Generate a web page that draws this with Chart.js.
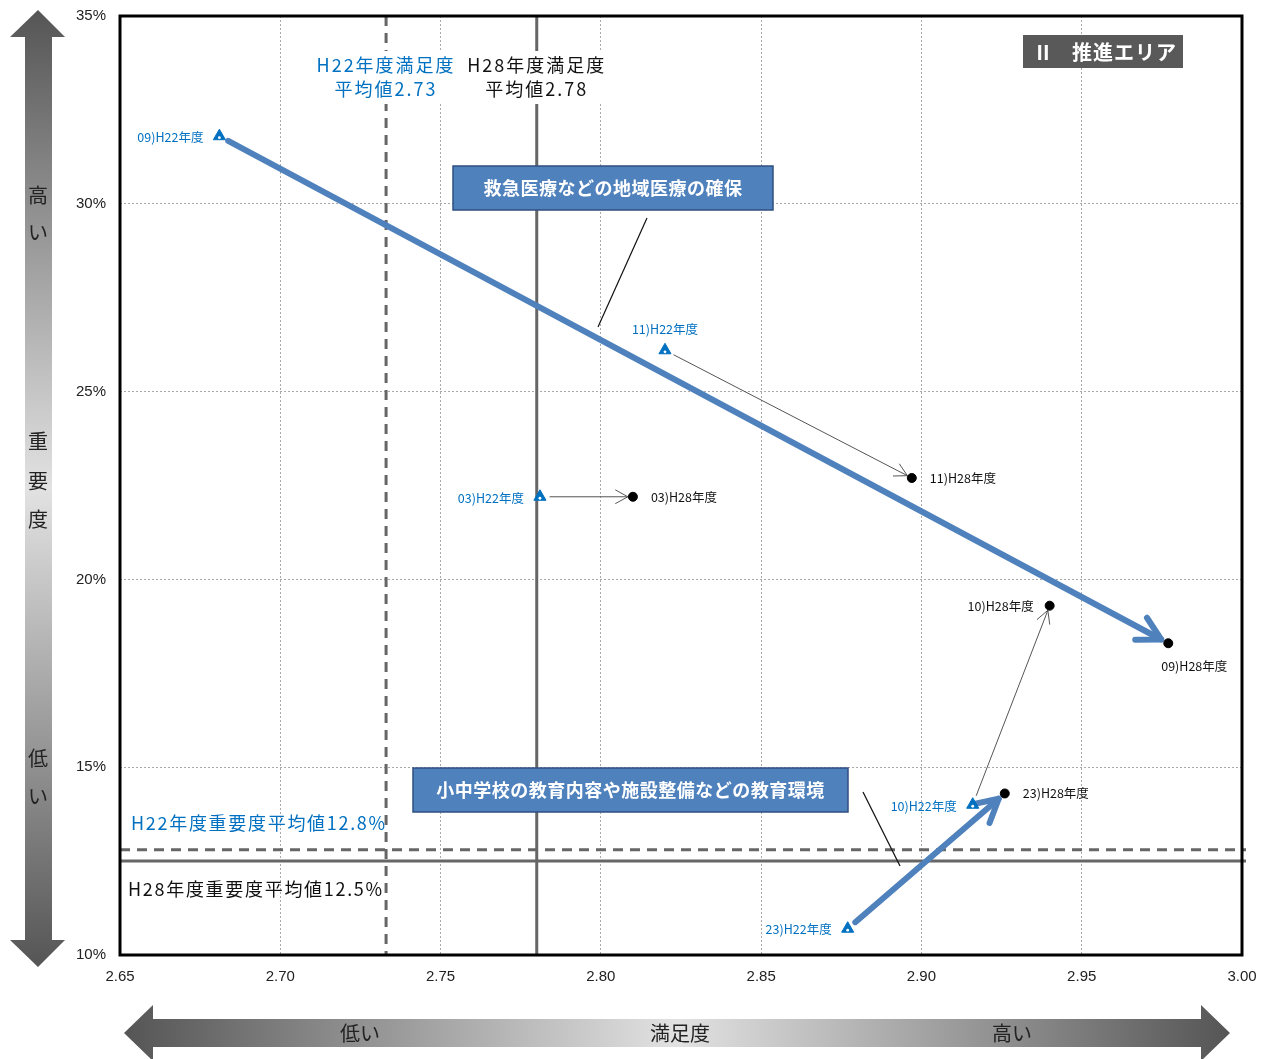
<!DOCTYPE html>
<html>
<head>
<meta charset="utf-8">
<script src="https://cdn.jsdelivr.net/npm/chart.js@4/dist/chart.umd.min.js"></script>
<style>
  html, body { margin: 0; padding: 0; background: #fff; overflow: hidden; }
  #wrap { width: 1266px; height: 1059px; position: relative; }
</style>
</head>
<body>
<div id="wrap"><canvas id="c" width="1266" height="1059"></canvas></div>
<script>
// Items and their satisfaction (x) / importance % (y) for the two survey years
const itemCodes = ['09', '11', '03', '10', '23'];
const satisfactionH22 = [2.681, 2.820, 2.781, 2.916, 2.877];
const importanceH22   = [31.8, 26.1, 22.2, 14.0, 10.7];
const satisfactionH28 = [2.977, 2.897, 2.810, 2.940, 2.926];
const importanceH28   = [18.3, 22.7, 22.2, 19.3, 14.3];

// Averages
const avgSatisfactionH22 = 2.733;
const avgSatisfactionH28 = 2.78;
const avgImportanceH22 = 12.8;
const avgImportanceH28 = 12.5;

// Axis ticks
const xTickValues = [2.65, 2.70, 2.75, 2.80, 2.85, 2.90, 2.95, 3.00];
const yTickValues = [10, 15, 20, 25, 30, 35];

// Highlighted items (drawn with bold arrows + callouts)
const highlighted = ['09', '23'];
const calloutTexts = ['救急医療などの地域医療の確保', '小中学校の教育内容や施設整備などの教育環境'];

// Label placement around each marker
const placeH22 = ['left', 'above', 'left', 'left', 'left'];
const placeH28 = ['below', 'right', 'right', 'left', 'right'];

const BLUE = '#0070C0';
const ARROW_BLUE = '#4F81BD';
const CJK = '"Noto Sans CJK JP", "Noto Sans", sans-serif';
const NARROW = '"Liberation Sans Narrow", "Liberation Sans", Arial, sans-serif';

function drawArrow(ctx, x1, y1, x2, y2, o) {
  const dx = x2 - x1, dy = y2 - y1;
  const len = Math.hypot(dx, dy);
  const ux = dx / len, uy = dy / len;
  const sx = x1 + ux * o.startGap, sy = y1 + uy * o.startGap;
  const ex = x2 - ux * o.endGap, ey = y2 - uy * o.endGap;
  ctx.save();
  ctx.strokeStyle = o.color;
  ctx.lineWidth = o.width;
  ctx.lineCap = 'round';
  ctx.lineJoin = 'round';
  ctx.beginPath();
  ctx.moveTo(sx, sy);
  ctx.lineTo(ex, ey);
  ctx.stroke();
  const ang = Math.atan2(uy, ux);
  const a = o.headAngle;
  ctx.beginPath();
  ctx.moveTo(ex - o.head * Math.cos(ang - a), ey - o.head * Math.sin(ang - a));
  ctx.lineTo(ex, ey);
  ctx.lineTo(ex - o.head * Math.cos(ang + a), ey - o.head * Math.sin(ang + a));
  ctx.stroke();
  ctx.restore();
}

function spacedText(ctx, text, x, y, spacing) {
  ctx.letterSpacing = spacing + 'px';
  ctx.fillText(text, x, y);
  ctx.letterSpacing = '0px';
}

function gradientArrowVertical(ctx) {
  const g = ctx.createLinearGradient(0, 10, 0, 967);
  g.addColorStop(0, '#555');
  g.addColorStop(0.5, '#e2e2e2');
  g.addColorStop(1, '#555');
  ctx.fillStyle = g;
  ctx.beginPath();
  ctx.moveTo(38, 10);
  ctx.lineTo(65, 37);
  ctx.lineTo(52, 37);
  ctx.lineTo(52, 940);
  ctx.lineTo(65, 940);
  ctx.lineTo(38, 967);
  ctx.lineTo(10, 940);
  ctx.lineTo(25, 940);
  ctx.lineTo(25, 37);
  ctx.lineTo(10, 37);
  ctx.closePath();
  ctx.fill();
  ctx.fillStyle = '#222';
  ctx.font = '20px ' + CJK;
  ctx.textAlign = 'center';
  ctx.textBaseline = 'middle';
  [['高', 195], ['い', 232], ['重', 441], ['要', 481], ['度', 519], ['低', 758], ['い', 796]]
    .forEach(([t, y]) => ctx.fillText(t, 38, y));
}

function gradientArrowHorizontal(ctx) {
  const g = ctx.createLinearGradient(125, 0, 1230, 0);
  g.addColorStop(0, '#555');
  g.addColorStop(0.5, '#e2e2e2');
  g.addColorStop(1, '#555');
  ctx.fillStyle = g;
  ctx.beginPath();
  ctx.moveTo(124, 1033);
  ctx.lineTo(153, 1005);
  ctx.lineTo(153, 1019);
  ctx.lineTo(1201, 1019);
  ctx.lineTo(1201, 1005);
  ctx.lineTo(1230, 1033);
  ctx.lineTo(1201, 1061);
  ctx.lineTo(1201, 1047);
  ctx.lineTo(153, 1047);
  ctx.lineTo(153, 1061);
  ctx.closePath();
  ctx.fill();
  ctx.fillStyle = '#222';
  ctx.font = '20px ' + CJK;
  ctx.textAlign = 'center';
  ctx.textBaseline = 'middle';
  ctx.fillText('低い', 360, 1033);
  ctx.fillText('満足度', 680, 1033);
  ctx.fillText('高い', 1012, 1033);
}

const overlay = {
  id: 'overlay',
  beforeDatasetsDraw(chart) {
    const { ctx, chartArea: ca, scales: { x, y } } = chart;
    ctx.save();
    gradientArrowVertical(ctx);
    gradientArrowHorizontal(ctx);

    // average lines
    ctx.strokeStyle = '#666';
    ctx.lineWidth = 3;
    const xa22 = x.getPixelForValue(avgSatisfactionH22);
    const xa28 = x.getPixelForValue(avgSatisfactionH28);
    const ya22 = y.getPixelForValue(avgImportanceH22);
    const ya28 = y.getPixelForValue(avgImportanceH28);
    ctx.setLineDash([10, 7]);
    ctx.beginPath(); ctx.moveTo(xa22, ca.top); ctx.lineTo(xa22, ca.bottom); ctx.stroke();
    ctx.beginPath(); ctx.moveTo(ca.left, ya22); ctx.lineTo(ca.right + 4, ya22); ctx.stroke();
    ctx.setLineDash([]);
    ctx.beginPath(); ctx.moveTo(xa28, ca.top); ctx.lineTo(xa28, ca.bottom); ctx.stroke();
    ctx.beginPath(); ctx.moveTo(ca.left, ya28); ctx.lineTo(ca.right + 4, ya28); ctx.stroke();

    // average labels (satisfaction) on a white ground
    ctx.font = '18px ' + CJK;
    ctx.textAlign = 'center';
    ctx.textBaseline = 'middle';
    const satLabels = [
      [xa22, 'H22年度満足度', '平均値' + avgSatisfactionH22.toFixed(2), BLUE],
      [xa28, 'H28年度満足度', '平均値' + avgSatisfactionH28.toFixed(2), '#111']
    ];
    satLabels.forEach(([cx, l1, l2, col]) => {
      ctx.letterSpacing = '2px';
      const w = Math.max(ctx.measureText(l1).width, ctx.measureText(l2).width);
      ctx.fillStyle = '#fff';
      ctx.fillRect(cx - w / 2 - 3, 51, w + 6, 53);
      ctx.fillStyle = col;
      ctx.fillText(l1, cx, 65);
      ctx.fillText(l2, cx, 89);
      ctx.letterSpacing = '0px';
    });

    // importance labels
    ctx.textAlign = 'left';
    ctx.fillStyle = BLUE;
    spacedText(ctx, 'H22年度重要度平均値' + avgImportanceH22.toFixed(1) + '%', ca.left + 11, ya22 - 27, 1.7);
    ctx.fillStyle = '#111';
    spacedText(ctx, 'H28年度重要度平均値' + avgImportanceH28.toFixed(1) + '%', ca.left + 8, ya28 + 28, 1.7);

    // movement arrows H22 -> H28
    itemCodes.forEach((code, i) => {
      const x1 = x.getPixelForValue(satisfactionH22[i]);
      const y1 = y.getPixelForValue(importanceH22[i]);
      const x2 = x.getPixelForValue(satisfactionH28[i]);
      const y2 = y.getPixelForValue(importanceH28[i]);
      if (highlighted.includes(code)) {
        drawArrow(ctx, x1, y1, x2, y2, { color: ARROW_BLUE, width: 6, head: 26, headAngle: 0.5, startGap: 10, endGap: 8 });
      } else {
        drawArrow(ctx, x1, y1, x2, y2, { color: '#555', width: 1, head: 14, headAngle: 0.5, startGap: 10, endGap: 5 });
      }
    });
    ctx.restore();
  },
  afterDatasetsDraw(chart) {
    const { ctx, chartArea: ca, scales: { x, y } } = chart;
    ctx.save();

    // small white eye inside each H22 triangle
    ctx.fillStyle = '#fff';
    itemCodes.forEach((code, i) => {
      const px = x.getPixelForValue(satisfactionH22[i]);
      const py = y.getPixelForValue(importanceH22[i]);
      ctx.beginPath();
      ctx.arc(px, py + 1.5, 1.4, 0, Math.PI * 2);
      ctx.fill();
    });

    // point labels
    ctx.font = '12.5px ' + CJK;
    ctx.textBaseline = 'middle';
    const putLabel = (text, px, py, place, col) => {
      ctx.fillStyle = col;
      if (place === 'left') { ctx.textAlign = 'right'; ctx.fillText(text, px - 16, py + 1); }
      else if (place === 'right') { ctx.textAlign = 'left'; ctx.fillText(text, px + 18, py); }
      else if (place === 'above') { ctx.textAlign = 'center'; ctx.fillText(text, px, py - 21); }
      else { ctx.textAlign = 'center'; ctx.fillText(text, px + 26, py + 23); }
    };
    itemCodes.forEach((code, i) => {
      putLabel(code + ')H22年度', x.getPixelForValue(satisfactionH22[i]), y.getPixelForValue(importanceH22[i]), placeH22[i], BLUE);
      putLabel(code + ')H28年度', x.getPixelForValue(satisfactionH28[i]), y.getPixelForValue(importanceH28[i]), placeH28[i], '#111');
    });

    // callouts
    const callouts = [
      { box: [453, 166, 320, 44], from: [647, 218], to: [598, 327], text: calloutTexts[0] },
      { box: [413, 768, 435, 44], from: [863, 792], to: [900, 866], text: calloutTexts[1] }
    ];
    callouts.forEach(c => {
      ctx.strokeStyle = '#111';
      ctx.lineWidth = 1.2;
      ctx.beginPath(); ctx.moveTo(c.from[0], c.from[1]); ctx.lineTo(c.to[0], c.to[1]); ctx.stroke();
      const [bx, by, bw, bh] = c.box;
      ctx.fillStyle = ARROW_BLUE;
      ctx.fillRect(bx, by, bw, bh);
      ctx.strokeStyle = '#2F4F7F';
      ctx.lineWidth = 1.5;
      ctx.strokeRect(bx, by, bw, bh);
      ctx.fillStyle = '#fff';
      ctx.font = 'bold 18px ' + CJK;
      ctx.textAlign = 'center';
      ctx.textBaseline = 'middle';
      spacedText(ctx, c.text, bx + bw / 2, by + bh / 2, 0.5);
    });

    // area label
    ctx.fillStyle = '#595959';
    ctx.fillRect(1023, 35, 160, 33);
    ctx.fillStyle = '#fff';
    ctx.font = 'bold 20px ' + CJK;
    ctx.textAlign = 'left';
    ctx.textBaseline = 'middle';
    ctx.fillText('Ⅱ', 1033, 52);
    spacedText(ctx, '推進エリア', 1072, 52, 1);

    // plot frame
    ctx.strokeStyle = '#000';
    ctx.lineWidth = 3;
    ctx.strokeRect(ca.left, ca.top, ca.right - ca.left, ca.bottom - ca.top);
    ctx.restore();
  }
};

const h22Points = satisfactionH22.map((v, i) => ({ x: v, y: importanceH22[i] }));
const h28Points = satisfactionH28.map((v, i) => ({ x: v, y: importanceH28[i] }));

new Chart(document.getElementById('c'), {
  type: 'scatter',
  data: {
    datasets: [
      {
        label: 'H22年度',
        data: h22Points,
        pointStyle: 'triangle',
        radius: 7,
        borderWidth: 1,
        backgroundColor: BLUE,
        borderColor: BLUE
      },
      {
        label: 'H28年度',
        data: h28Points,
        pointStyle: 'circle',
        radius: 4.5,
        borderWidth: 1,
        backgroundColor: '#000',
        borderColor: '#000'
      }
    ]
  },
  options: {
    responsive: false,
    animation: false,
    devicePixelRatio: 1,
    layout: { padding: { top: 16, right: 24, left: 0, bottom: 0 } },
    plugins: { legend: { display: false }, tooltip: { enabled: false } },
    scales: {
      x: {
        type: 'linear',
        min: 2.65,
        max: 3.00,
        afterBuildTicks: s => { s.ticks = xTickValues.map(v => ({ value: v })); },
        afterFit: s => { s.height = 104; s.paddingLeft = 0; s.paddingRight = 0; },
        ticks: {
          padding: 13,
          color: '#222',
          font: { family: NARROW, size: 15 },
          callback: v => Number(v).toFixed(2)
        },
        grid: { color: '#a8a8a8', lineWidth: 1, drawTicks: false },
        border: { display: false, dash: [2, 2] }
      },
      y: {
        type: 'linear',
        min: 10,
        max: 35,
        afterBuildTicks: s => { s.ticks = yTickValues.map(v => ({ value: v })); },
        afterFit: s => { s.width = 120; s.paddingTop = 0; s.paddingBottom = 0; },
        ticks: {
          padding: 14,
          color: '#222',
          font: { family: NARROW, size: 15 },
          callback: v => v + '%'
        },
        grid: { color: '#a8a8a8', lineWidth: 1, drawTicks: false },
        border: { display: false, dash: [2, 2] }
      }
    }
  },
  plugins: [overlay]
});
</script>
</body>
</html>
